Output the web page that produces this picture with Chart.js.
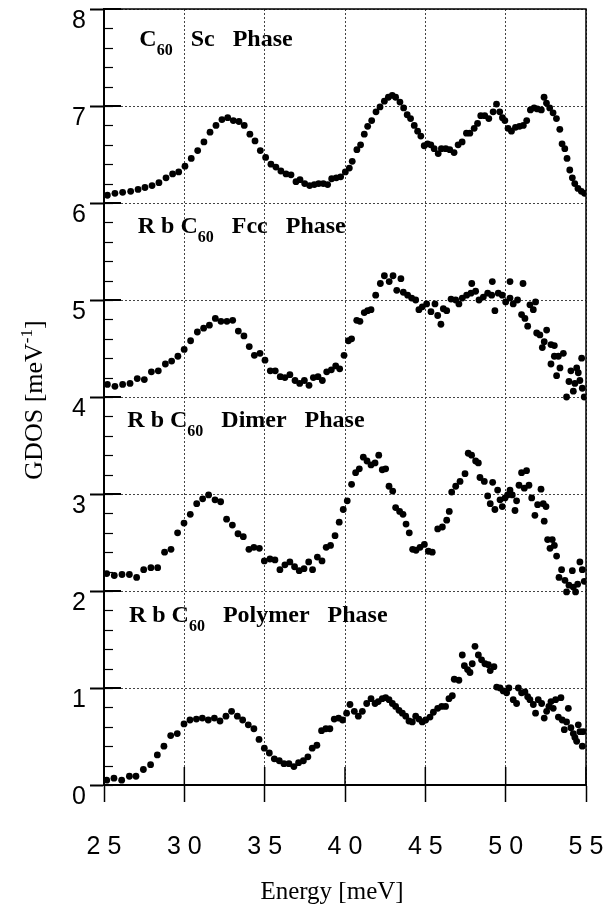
<!DOCTYPE html>
<html lang="en">
<head>
    <meta charset="UTF-8">
    <title>GDOS of C60 phases</title>
    <script src="https://cdn.jsdelivr.net/npm/chart.js"></script>
    <style>
        body { margin: 0; background: #fff; }
        .chart-container { position: relative; width: 615px; height: 907px; }
    </style>
</head>
<body>
<div class="chart-container">
    <canvas id="myChart"></canvas>
</div>

<script>
    // [energy meV, GDOS] as plotted (each phase is shifted up by 2 from the one below)
    var scPhase = [
        [25.21,6.08],[25.68,6.10],[26.16,6.11],[26.66,6.12],[27.12,6.14],[27.55,6.16],[27.99,6.18],[28.42,6.21],
        [28.86,6.26],[29.27,6.30],[29.65,6.32],[30.04,6.38],[30.43,6.46],[30.83,6.54],[31.22,6.63],[31.6,6.73],
        [31.97,6.80],[32.34,6.86],[32.7,6.88],[33.05,6.85],[33.4,6.84],[33.73,6.80],[34.08,6.71],[34.4,6.64],
        [34.73,6.54],[35.06,6.47],[35.39,6.40],[35.7,6.37],[36.01,6.33],[36.33,6.30],[36.64,6.29],[36.95,6.22],
        [37.2,6.24],[37.49,6.20],[37.8,6.18],[38.09,6.19],[38.36,6.20],[38.65,6.20],[38.92,6.19],[39.17,6.25],
        [39.46,6.26],[39.73,6.27],[40.02,6.32],[40.27,6.36],[40.45,6.43],[40.74,6.55],[40.97,6.60],[41.2,6.71],
        [41.41,6.79],[41.66,6.85],[41.93,6.94],[42.18,6.99],[42.45,7.05],[42.7,7.09],[42.94,7.11],[43.15,7.09],
        [43.42,7.04],[43.65,6.98],[43.87,6.91],[44.08,6.87],[44.31,6.80],[44.52,6.74],[44.72,6.69],[44.93,6.59],
        [45.14,6.61],[45.34,6.60],[45.55,6.56],[45.8,6.51],[46.0,6.56],[46.27,6.56],[46.52,6.55],[46.79,6.52],
        [47.04,6.60],[47.29,6.63],[47.56,6.72],[47.77,6.72],[48.04,6.77],[48.25,6.82],[48.45,6.90],[48.7,6.90],
        [48.95,6.87],[49.22,6.94],[49.43,7.02],[49.63,6.94],[49.8,6.88],[49.95,6.85],[50.15,6.77],[50.36,6.74],
        [50.61,6.78],[50.86,6.79],[51.1,6.80],[51.31,6.85],[51.54,6.96],[51.77,6.98],[51.97,6.97],[52.22,6.96],
        [52.39,7.09],[52.54,7.03],[52.74,6.98],[52.95,6.93],[53.16,6.87],[53.37,6.76],[53.51,6.61],[53.68,6.56],
        [53.82,6.46],[53.99,6.34],[54.15,6.26],[54.3,6.20],[54.5,6.15],[54.71,6.12],[54.91,6.10]
    ];

    var fccPhase = [
        [25.21,4.13],[25.68,4.11],[26.16,4.13],[26.62,4.14],[27.07,4.19],[27.51,4.18],[27.95,4.26],[28.38,4.27],
        [28.82,4.34],[29.21,4.37],[29.6,4.42],[29.99,4.49],[30.39,4.58],[30.81,4.67],[31.2,4.71],[31.56,4.74],
        [31.93,4.81],[32.28,4.78],[32.65,4.78],[33.01,4.79],[33.36,4.68],[33.71,4.63],[34.04,4.52],[34.36,4.43],
        [34.71,4.45],[35.02,4.38],[35.35,4.27],[35.66,4.27],[35.97,4.21],[36.26,4.20],[36.57,4.23],[36.89,4.17],
        [37.18,4.14],[37.47,4.17],[37.76,4.12],[38.03,4.20],[38.32,4.21],[38.59,4.17],[38.86,4.26],[39.15,4.28],
        [39.42,4.32],[39.67,4.29],[39.94,4.43],[40.21,4.58],[40.41,4.60],[40.73,4.79],[40.93,4.78],[41.2,4.87],
        [41.41,4.89],[41.62,4.90],[41.91,5.05],[42.2,5.17],[42.45,5.25],[42.75,5.19],[42.99,5.25],[43.22,5.10],
        [43.48,5.22],[43.63,5.08],[43.9,5.05],[44.15,5.02],[44.4,5.00],[44.6,4.90],[44.81,4.93],[45.08,4.96],
        [45.35,4.88],[45.6,4.96],[45.77,4.84],[45.97,4.75],[46.12,4.91],[46.33,4.89],[46.6,5.01],[46.89,5.00],
        [47.09,4.96],[47.3,5.02],[47.57,5.05],[47.84,5.07],[47.89,5.17],[48.13,5.09],[48.34,5.00],[48.61,5.03],
        [48.88,5.07],[49.13,5.05],[49.17,5.19],[49.33,4.89],[49.54,5.07],[49.79,5.05],[50.0,4.98],[50.27,5.02],
        [50.27,5.19],[50.47,4.96],[50.74,5.00],[50.99,4.85],[51.08,5.17],[51.2,4.81],[51.37,4.73],[51.51,4.95],
        [51.72,4.90],[51.86,4.98],[51.93,4.66],[52.13,4.64],[52.28,4.51],[52.4,4.57],[52.55,4.69],[52.82,4.54],
        [52.82,4.34],[53.03,4.53],[53.03,4.42],[53.17,4.22],[53.28,4.42],[53.38,4.30],[53.59,4.45],[53.79,4.00],
        [53.94,4.16],[54.06,4.27],[54.21,4.06],[54.31,4.14],[54.42,4.30],[54.52,4.25],[54.62,4.17],[54.73,4.40],
        [54.77,4.09],[54.89,4.00]
    ];

    var dimerPhase = [
        [25.17,2.18],[25.64,2.16],[26.12,2.17],[26.58,2.17],[27.03,2.14],[27.47,2.22],[27.92,2.24],[28.34,2.24],
        [28.77,2.40],[29.17,2.43],[29.58,2.60],[29.98,2.70],[30.37,2.79],[30.77,2.90],[31.14,2.95],[31.51,2.99],
        [31.91,2.94],[32.26,2.92],[32.63,2.74],[32.99,2.68],[33.34,2.59],[33.67,2.56],[34.02,2.43],[34.33,2.45],
        [34.67,2.44],[34.98,2.31],[35.33,2.33],[35.64,2.32],[35.95,2.22],[36.26,2.27],[36.57,2.30],[36.86,2.25],
        [37.15,2.21],[37.45,2.23],[37.74,2.30],[37.98,2.22],[38.28,2.35],[38.57,2.31],[38.83,2.45],[39.1,2.47],
        [39.38,2.57],[39.64,2.71],[39.89,2.84],[40.14,2.93],[40.41,3.10],[40.66,3.22],[40.89,3.26],[41.14,3.38],
        [41.37,3.34],[41.62,3.30],[41.87,3.32],[42.1,3.40],[42.32,3.25],[42.53,3.26],[42.74,3.08],[42.97,3.03],
        [43.15,2.86],[43.4,2.82],[43.61,2.79],[43.8,2.69],[44.0,2.60],[44.21,2.43],[44.42,2.42],[44.67,2.45],
        [44.94,2.48],[45.19,2.41],[45.43,2.40],[45.77,2.64],[46.06,2.66],[46.33,2.73],[46.49,2.82],[46.64,3.02],
        [46.89,3.08],[47.16,3.13],[47.47,3.21],[47.67,3.42],[47.88,3.40],[48.13,3.34],[48.3,3.32],[48.4,3.17],
        [48.67,3.13],[48.88,2.98],[49.04,2.90],[49.19,3.12],[49.33,2.84],[49.5,3.04],[49.65,2.94],[49.79,2.87],
        [49.96,2.96],[50.12,2.99],[50.27,3.04],[50.41,2.99],[50.58,2.83],[50.68,2.93],[50.83,3.09],[50.99,3.22],
        [51.16,3.06],[51.3,3.24],[51.45,3.09],[51.62,2.96],[51.82,2.78],[51.99,2.89],[52.2,3.05],[52.34,2.90],
        [52.4,2.72],[52.51,2.87],[52.61,2.53],[52.76,2.44],[52.9,2.53],[53.03,2.47],[53.17,2.36],[53.32,2.14],
        [53.48,2.22],[53.69,2.11],[53.79,1.99],[53.94,2.06],[54.15,2.21],[54.21,2.04],[54.35,1.99],[54.48,2.07],
        [54.62,2.30],[54.77,2.22],[54.89,2.10]
    ];

    var polymerPhase = [
        [25.17,0.05],[25.62,0.07],[26.1,0.05],[26.58,0.09],[26.99,0.09],[27.45,0.16],[27.9,0.21],[28.32,0.31],
        [28.73,0.40],[29.15,0.51],[29.56,0.53],[29.98,0.63],[30.35,0.67],[30.75,0.68],[31.12,0.69],[31.49,0.67],
        [31.87,0.69],[32.22,0.66],[32.59,0.71],[32.94,0.76],[33.3,0.71],[33.63,0.67],[33.98,0.62],[34.33,0.58],
        [34.65,0.47],[34.98,0.38],[35.29,0.33],[35.6,0.27],[35.91,0.25],[36.2,0.22],[36.51,0.22],[36.82,0.19],
        [37.11,0.23],[37.41,0.25],[37.69,0.29],[37.96,0.38],[38.25,0.41],[38.54,0.56],[38.81,0.58],[39.06,0.58],
        [39.33,0.68],[39.6,0.69],[39.85,0.67],[40.1,0.74],[40.31,0.83],[40.58,0.76],[40.83,0.71],[41.08,0.76],
        [41.35,0.84],[41.62,0.89],[41.87,0.84],[42.07,0.86],[42.32,0.89],[42.53,0.90],[42.74,0.88],[42.95,0.84],
        [43.15,0.81],[43.36,0.77],[43.57,0.74],[43.78,0.71],[43.98,0.66],[44.19,0.65],[44.4,0.71],[44.6,0.68],
        [44.81,0.65],[45.02,0.67],[45.29,0.70],[45.5,0.75],[45.77,0.79],[46.02,0.81],[46.26,0.81],[46.47,0.89],
        [46.68,0.92],[46.8,1.09],[47.09,1.08],[47.3,1.34],[47.43,1.23],[47.63,1.19],[47.78,1.16],[47.92,1.25],
        [48.09,1.43],[48.3,1.34],[48.5,1.29],[48.71,1.25],[48.92,1.24],[49.04,1.18],[49.27,1.22],[49.44,1.01],
        [49.65,1.00],[49.85,0.97],[50.06,0.95],[50.2,1.00],[50.47,0.88],[50.68,0.84],[50.79,1.00],[50.99,0.95],
        [51.2,0.96],[51.37,0.91],[51.51,0.88],[51.72,0.83],[51.86,0.74],[52.03,0.88],[52.24,0.84],[52.4,0.69],
        [52.55,0.76],[52.69,0.81],[52.82,0.86],[52.96,0.79],[53.11,0.88],[53.28,0.70],[53.44,0.90],[53.52,0.67],
        [53.65,0.57],[53.79,0.65],[53.9,0.79],[54.06,0.59],[54.21,0.53],[54.31,0.49],[54.42,0.45],[54.52,0.62],
        [54.62,0.55],[54.77,0.40],[54.83,0.55]
    ];

    // phase labels: text before the subscript, subscript, text after, anchored at (energy, gdos)
    var phaseLabels = [
        { pre: 'C', sub: '60', post: '   Sc   Phase', x: 27.2, y: 7.62 },
        { pre: 'R b C', sub: '60', post: '   Fcc   Phase', x: 27.1, y: 5.69 },
        { pre: 'R b C', sub: '60', post: '   Dimer   Phase', x: 26.45, y: 3.69 },
        { pre: 'R b C', sub: '60', post: '   Polymer   Phase', x: 26.55, y: 1.68 }
    ];

    var xTicks = [25, 30, 35, 40, 45, 50, 55];
    var yTicks = [0, 1, 2, 3, 4, 5, 6, 7, 8];

    function toPoints(rows) {
        return rows.map(function (r) { return { x: r[0], y: r[1] }; });
    }

    var serif = '"Liberation Serif", "Times New Roman", serif';

    // frame, inner ticks, axis titles and phase labels
    var decor = {
        id: 'decor',
        afterDraw: function (chart) {
            var ctx = chart.ctx, a = chart.chartArea;
            var xs = chart.scales.x, ys = chart.scales.y;
            ctx.save();
            ctx.strokeStyle = '#000';

            // minor ticks on the left axis
            ctx.lineWidth = 1.2;
            for (var v = 0; v < 8; v += 0.2) {
                var py = Math.round(ys.getPixelForValue(v)) + 0.5;
                ctx.beginPath(); ctx.moveTo(a.left, py); ctx.lineTo(a.left + 9, py); ctx.stroke();
            }
            // inner part of the major ticks
            ctx.lineWidth = 2;
            yTicks.forEach(function (t) {
                var py = ys.getPixelForValue(t);
                ctx.beginPath(); ctx.moveTo(a.left, py); ctx.lineTo(a.left + 17, py); ctx.stroke();
            });
            ctx.lineWidth = 1.5;
            xTicks.forEach(function (t) {
                var px = xs.getPixelForValue(t);
                ctx.beginPath(); ctx.moveTo(px, a.bottom); ctx.lineTo(px, a.bottom - 18); ctx.stroke();
            });
            // frame
            ctx.lineWidth = 1.5;
            ctx.strokeRect(a.left, a.top, a.right - a.left, a.bottom - a.top);

            ctx.fillStyle = '#000';
            ctx.textBaseline = 'alphabetic';

            // y title, rotated
            ctx.save();
            ctx.translate(42, 400);
            ctx.rotate(-Math.PI / 2);
            ctx.font = '26px ' + serif;
            var t1 = 'GDOS [meV', t3 = ']';
            var w1 = ctx.measureText(t1).width, w3 = ctx.measureText(t3).width;
            ctx.font = '17px ' + serif;
            var t2 = '-1', w2 = ctx.measureText(t2).width;
            var x0 = -(w1 + w2 + w3) / 2;
            ctx.font = '26px ' + serif;
            ctx.fillText(t1, x0, 0);
            ctx.font = '17px ' + serif;
            ctx.fillText(t2, x0 + w1, -10);
            ctx.font = '26px ' + serif;
            ctx.fillText(t3, x0 + w1 + w2, 0);
            ctx.restore();

            // x title
            ctx.font = '25px ' + serif;
            ctx.textAlign = 'center';
            ctx.fillText('Energy [meV]', 332, 899);
            ctx.textAlign = 'left';

            // phase labels
            phaseLabels.forEach(function (L) {
                var px = xs.getPixelForValue(L.x), py = ys.getPixelForValue(L.y);
                ctx.font = 'bold 24px ' + serif;
                ctx.fillText(L.pre, px, py);
                px += ctx.measureText(L.pre).width;
                ctx.font = 'bold 16px ' + serif;
                ctx.fillText(L.sub, px, py + 9);
                px += ctx.measureText(L.sub).width;
                ctx.font = 'bold 24px ' + serif;
                ctx.fillText(L.post, px, py);
            });
            ctx.restore();
        }
    };

    function dots(label, rows) {
        return {
            label: label,
            data: toPoints(rows),
            backgroundColor: '#000',
            borderColor: '#000',
            borderWidth: 0,
            pointRadius: 3.4,
            showLine: false
        };
    }

    var tickFont = { family: '"Liberation Sans", Arial, sans-serif', size: 25 };

    var ctx = document.getElementById('myChart').getContext('2d');
    var chart = new Chart(ctx, {
        type: 'scatter',
        data: {
            datasets: [
                dots('C60 Sc Phase', scPhase),
                dots('RbC60 Fcc Phase', fccPhase),
                dots('RbC60 Dimer Phase', dimerPhase),
                dots('RbC60 Polymer Phase', polymerPhase)
            ]
        },
        options: {
            responsive: true,
            maintainAspectRatio: false,
            animation: false,
            events: [],
            layout: { padding: { top: 9, right: 29, left: 0, bottom: 0 } },
            plugins: {
                legend: { display: false },
                tooltip: { enabled: false }
            },
            scales: {
                x: {
                    type: 'linear',
                    min: 25,
                    max: 55,
                    afterFit: function (s) {
                        s.height = 122;
                        s.paddingLeft = 0; s.paddingRight = 0;
                    },
                    afterBuildTicks: function (s) { s.ticks = xTicks.map(function (v) { return { value: v }; }); },
                    ticks: {
                        color: '#000',
                        font: tickFont,
                        padding: 30,
                        maxRotation: 0,
                        callback: function (value) { return String(value).split('').join(' '); }
                    },
                    grid: {
                        color: '#444',
                        lineWidth: 1,
                        tickLength: 17,
                        tickColor: '#000',
                        tickWidth: 1.5
                    },
                    border: { dash: [2, 2], color: '#000', width: 2 }
                },
                y: {
                    min: 0,
                    max: 8,
                    afterFit: function (s) {
                        s.width = 104;
                        s.paddingTop = 0; s.paddingBottom = 0;
                    },
                    afterBuildTicks: function (s) { s.ticks = yTicks.map(function (v) { return { value: v }; }); },
                    ticks: {
                        color: '#000',
                        font: tickFont,
                        padding: 4,
                        labelOffset: 12
                    },
                    grid: {
                        color: '#444',
                        lineWidth: 1,
                        tickLength: 14,
                        tickColor: '#000',
                        tickWidth: 2
                    },
                    border: { dash: [2, 2], color: '#000', width: 2 }
                }
            }
        },
        plugins: [decor]
    });
</script>
</body>
</html>
